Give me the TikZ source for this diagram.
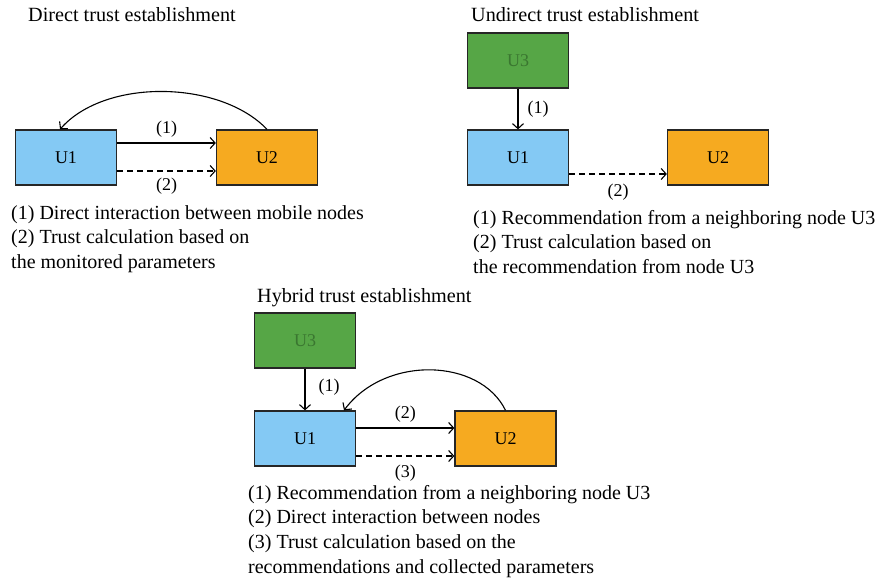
\documentclass[tikz,border=0pt]{standalone}
\usepackage{fontspec}
\setmainfont{Liberation Serif}
\usetikzlibrary{arrows.meta}
\definecolor{boxblue}{RGB}{132,201,244}
\definecolor{boxorange}{RGB}{246,170,32}
\definecolor{boxgreen}{RGB}{86,166,70}
\definecolor{txtgreen}{RGB}{58,118,48}
\tikzset{
  ubox/.style={draw=black!85, line width=1.3pt, minimum width=101pt, minimum height=55pt, inner sep=0pt, font=\fontsize{18}{18}\selectfont},
  bluebox/.style={ubox, fill=boxblue},
  orangebox/.style={ubox, fill=boxorange},
  greenbox/.style={ubox, fill=boxgreen, text=txtgreen},
  conn/.style={line width=1.1pt, -{Straight Barb[length=5pt,width=11pt]}},
  dconn/.style={conn, dashed, dash pattern=on 6pt off 4pt},
  lbl/.style={font=\fontsize{18}{18}\selectfont, inner sep=0pt},
  titletxt/.style={font=\fontsize{20.2}{20.2}\selectfont, anchor=base west, inner sep=0pt},
  captxt/.style={font=\fontsize{20}{24.6}\selectfont, anchor=north west, inner sep=0pt, align=left}
}
\begin{document}
\begin{tikzpicture}[x=1pt,y=-1pt]
\useasboundingbox (0,0) rectangle (883,584);
\fill[white] (0,0) rectangle (883,584);
% Direct
\node[titletxt] (t1) at (28,21) {Direct trust establishment};
\node[bluebox] (d1) at (66,157.5) {U1};
\node[orangebox] (d2) at (267,157.5) {U2};
\draw[conn] (d1.east |- 0,143) -- (d2.west |- 0,143) node[lbl, midway, above=5pt] (dl1) {(1)};
\draw[dconn] (d1.east |- 0,171) -- (d2.west |- 0,171) node[lbl, midway, below=6pt] (dl2) {(2)};
\draw[line width=1.1pt, -{Straight Barb[length=5pt,width=11pt]}] (d2.north) .. controls (220,80) and (105,78) .. (d1.north -| 60,0);
\node[captxt] (c1) at (11,205) {(1) Direct interaction between mobile nodes\\(2) Trust calculation based on\\the monitored parameters};
% Undirect
\node[titletxt] (t2) at (471,21) {Undirect trust establishment};
\node[greenbox] (u3) at (518,60.5) {U3};
\node[bluebox] (u1) at (518,157.5) {U1};
\node[orangebox] (u2) at (718,157.5) {U2};
\draw[conn] (u3) -- (u1) node[lbl, midway, right=9pt] (ul1) {(1)};
\draw[dconn] (u1.east |- 0,174) -- (u2.west |- 0,174) node[lbl, midway, below=9pt] (ul2) {(2)};
\node[captxt] (c2) at (473,210) {(1) Recommendation from a neighboring node U3\\(2) Trust calculation based on\\the recommendation from node U3};
% Hybrid
\node[titletxt] (t3) at (257,302) {Hybrid trust establishment};
\node[greenbox] (h3) at (305,340.5) {U3};
\node[bluebox] (h1) at (305,438.5) {U1};
\node[orangebox] (h2) at (505.5,438.5) {U2};
\draw[conn] (h3) -- (h1);
\node[lbl] (hl1) at (329,387) {(1)};
\draw[conn] (h1.east |- 0,428) -- (h2.west |- 0,428) node[lbl, midway, above=5pt] (hl2) {(2)};
\draw[dconn] (h1.east |- 0,456) -- (h2.west |- 0,456) node[lbl, midway, below=8pt] (hl3) {(3)};
\draw[line width=1.1pt, -{Straight Barb[length=5pt,width=11pt]}] (h2.north) .. controls (480,358) and (385,355) .. (h1.north -| 344,0);
\node[captxt] (c3) at (248,485) {(1) Recommendation from a neighboring node U3\\(2) Direct interaction between nodes\\(3) Trust calculation based on the\\recommendations and collected parameters};
\end{tikzpicture}
\end{document}
